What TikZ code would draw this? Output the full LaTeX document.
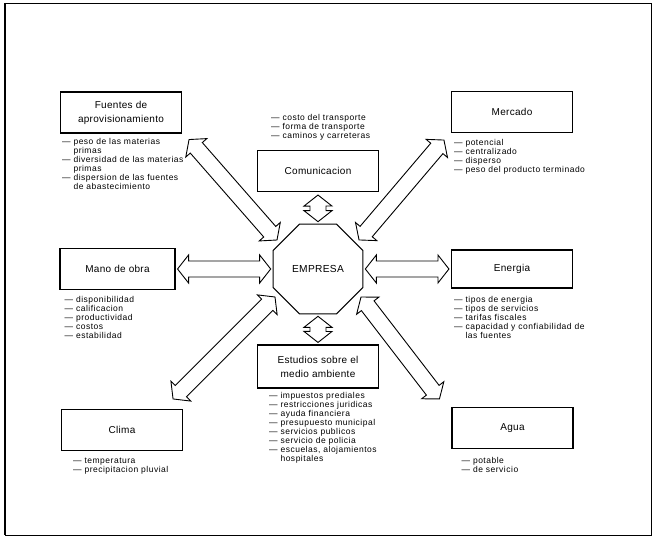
\documentclass[tikz,border=0pt]{standalone}
\usepackage{fontspec}
\setmainfont{Liberation Sans}
\newfontfamily\listfont[LetterSpace=6]{Liberation Sans}
\newfontfamily\boxfont[LetterSpace=3]{Liberation Sans}
\usetikzlibrary{positioning, shapes.geometric, calc}
\tikzset{
  factor/.style={draw, line width=1.1pt, minimum width=121pt, minimum height=41pt,
                 inner sep=2pt, align=center, font=\boxfont\fontsize{10}{14}\selectfont},
  items/.style={align=left, inner sep=0pt, font=\listfont\fontsize{8.5}{9}\selectfont},
  core/.style={regular polygon, regular polygon sides=8, draw, line width=1pt,
               minimum size=97pt, inner sep=0pt, font=\boxfont\fontsize{10.2}{12}\selectfont},
  hollow/.style={draw, line width=0.9pt, fill=white, line join=miter},
}
% hollow double-headed arrow between two points
\newcommand\shaftw{8}
\newcommand\headw{14}
\newcommand\headl{11}
\newcommand\bigarrow[2]{%
  \draw[hollow] let \p1=(#1), \p2=(#2),
      \n1={atan2(\y2-\y1,\x2-\x1)}, \n2={veclen(\x2-\x1,\y2-\y1)} in
    [shift={(\p1)}, rotate=\n1]
    (0,0) -- (\headl,\headw) -- (\headl,\shaftw) -- ({\n2-\headl},\shaftw)
    -- ({\n2-\headl},\headw) -- (\n2,0) -- ({\n2-\headl},-\headw)
    -- ({\n2-\headl},-\shaftw) -- (\headl,-\shaftw) -- (\headl,-\headw) -- cycle;}
\newcommand\cont{\hphantom{—\ }}

\begin{document}
\begin{tikzpicture}[x=1pt, y=-1pt]
  \useasboundingbox (0,0) rectangle (653,537);
  % frame
  \draw[line width=0.8pt] (5,3) rectangle (651,535);
  \draw[line width=2pt] (5,3) -- (5,535);

  % factor boxes
  \node[core] (empresa) at (318,269) {EMPRESA};
  \node[factor] (fuentes) at (121,112.5) {Fuentes de\\aprovisionamiento};
  \node[factor] (comun) at (318,171) {Comunicacion};
  \node[factor] (mercado) at (512,112) {Mercado};
  \node[factor, minimum width=115pt] (mano) at (117.5,269) {Mano de obra};
  \node[factor, minimum height=38pt] (energia) at (512,269) {Energia};
  \node[factor, minimum height=43pt] (estudios) at (318,366.5) {Estudios sobre el\\medio ambiente};
  \node[factor] (clima) at (122,430) {Clima};
  \node[factor] (agua) at (512.5,428) {Agua};

  % lists
  \node[items, below=5pt of fuentes.south west, anchor=north west, xshift=2pt] (fuenteslist)
    {— peso de las materias\\\cont primas\\— diversidad de las materias\\\cont primas\\
     — dispersion de las fuentes\\\cont de abastecimiento};
  \node[items, above=9pt of comun.north west, anchor=south west, xshift=14pt] (comunlist)
    {— costo del transporte\\— forma de transporte\\— caminos y carreteras};
  \node[items, below=6pt of mercado.south west, anchor=north west, xshift=3pt] (mercadolist)
    {— potencial\\— centralizado\\— disperso\\— peso del producto terminado};
  \node[items, below=6pt of mano.south west, anchor=north west, xshift=5pt] (manolist)
    {— disponibilidad\\— calificacion\\— productividad\\— costos\\— estabilidad};
  \node[items, below=8pt of energia.south west, anchor=north west, xshift=3pt] (energialist)
    {— tipos de energia\\— tipos de servicios\\— tarifas fiscales\\
     — capacidad y confiabilidad de\\\cont las fuentes};
  \node[items, below=4pt of estudios.south west, anchor=north west, xshift=12pt] (estudioslist)
    {— impuestos prediales\\— restricciones juridicas\\— ayuda financiera\\
     — presupuesto municipal\\— servicios publicos\\— servicio de policia\\
     — escuelas, alojamientos\\\cont hospitales};
  \node[items, below=7pt of clima.south west, anchor=north west, xshift=12pt] (climalist)
    {— temperatura\\— precipitacion pluvial};
  \node[items, below=8pt of agua.south west, anchor=north west, xshift=10pt] (agualist)
    {— potable\\— de servicio};

  % arrows
  \bigarrow{$(mano.east)+(2,0)$}{$(empresa.west)+(-2,0)$}
  \bigarrow{$(empresa.east)+(2,0)$}{$(energia.west)+(-2,0)$}
  \bigarrow{$(comun.south)+(0,3)$}{$(empresa.north)+(0,-2)$}
  \bigarrow{$(empresa.south)+(0,2)$}{$(estudios.north)+(0,-2)$}
  \bigarrow{$(fuentes.south east)+(7,6)$}{$(empresa)+(-41,-29)$}
  \bigarrow{$(mercado.south west)+(-7,7)$}{$(empresa)+(41,-29)$}
  \bigarrow{$(clima.north east)+(-10,-10)$}{$(empresa)+(-43,28)$}
  \bigarrow{$(empresa)+(43,28)$}{$(agua.north west)+(-12,-8)$}
\end{tikzpicture}
\end{document}
